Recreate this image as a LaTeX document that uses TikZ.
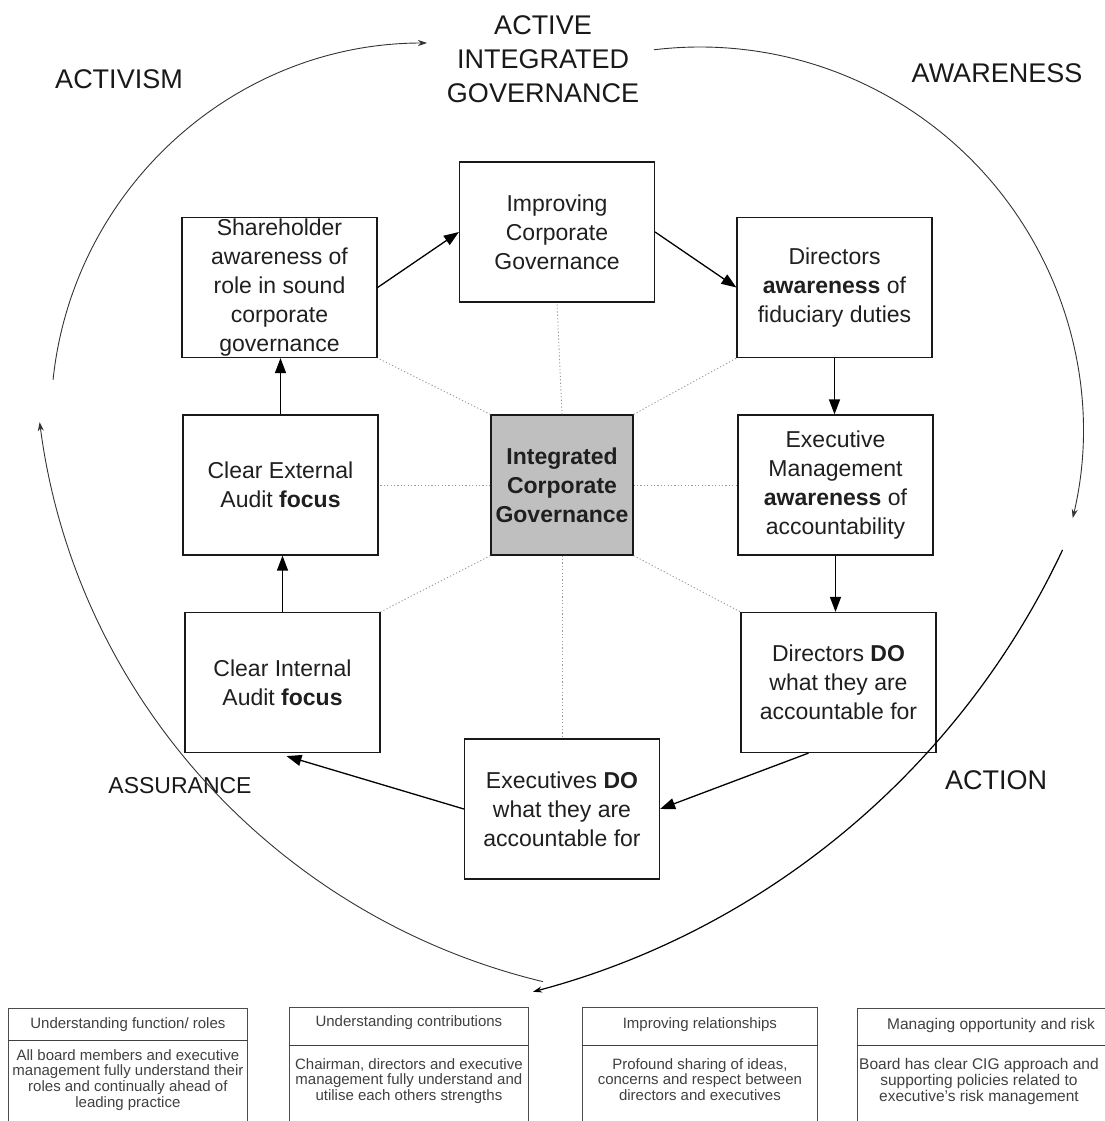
\documentclass[tikz,border=0pt]{standalone}
\usepackage{fontspec}
\setmainfont{Liberation Sans}
\usetikzlibrary{arrows.meta}
\begin{document}
\begin{tikzpicture}[x=1pt,y=-1pt,
  stage/.style={draw=black!90, line width=1.2pt, minimum width=195pt, minimum height=140pt,
    inner sep=0pt, align=center, text=black!88, font=\fontsize{23}{29}\selectfont},
  hub/.style={stage, fill=black!25, minimum width=142pt, font=\fontsize{23}{29}\selectfont\bfseries},
  flow/.style={draw=black, line width=1.3pt, -{Triangle[length=15pt,width=11pt]}},
  spoke/.style={draw=black!40, line width=0.9pt, dash pattern=on 1.2pt off 2.2pt},
  loop/.style={draw=black!80, line width=0.9pt, -{Stealth[length=9pt,width=6pt]}},
  phase/.style={align=center, inner sep=0pt, text=black!90, font=\fontsize{27}{34}\selectfont},
  panel/.style={draw=black!70, line width=0.8pt, minimum width=239pt, minimum height=140pt,
    anchor=north west, inner sep=0pt},
  panelrule/.style={draw=black!75, line width=1pt},
  paneltext/.style={align=center, inner sep=0pt, text=black!75, font=\fontsize{15}{15.9}\selectfont}
]
\useasboundingbox (0,0) rectangle (1104,1121);

% phase labels round the cycle
\node[phase] (aig) at (543,59) {ACTIVE\\INTEGRATED\\GOVERNANCE};
\node[phase] (activism) at (119,79) {ACTIVISM};
\node[phase] (awareness) at (997,73) {AWARENESS};
\node[phase, font=\fontsize{23}{29}\selectfont] (assurance) at (180,786) {ASSURANCE};
\node[phase] (action) at (996,780) {ACTION};

% the eight stages and the hub
\node[stage] (imp) at (557,232) {Improving\\Corporate\\Governance};
\node[stage] (sh) at (279.5,287.5) {Shareholder\\awareness of\\role in sound\\corporate\\governance};
\node[stage] (dir) at (834.5,287.5) {Directors\\\textbf{awareness} of\\fiduciary duties};
\node[stage] (ext) at (280.5,485) {Clear External\\Audit \textbf{focus}};
\node[hub] (icg) at (562,485) {Integrated\\Corporate\\Governance};
\node[stage] (exe) at (835.5,485) {Executive\\Management\\\textbf{awareness} of\\accountability};
\node[stage] (int) at (282.5,682.5) {Clear Internal\\Audit \textbf{focus}};
\node[stage] (ddo) at (838.5,682.5) {Directors \textbf{DO}\\what they are\\accountable for};
\node[stage] (edo) at (562,809) {Executives \textbf{DO}\\what they are\\accountable for};

% dotted spokes from the hub
\draw[spoke] (icg.north) -- (imp.south);
\draw[spoke] (icg.south) -- (edo.north);
\draw[spoke] (icg.west) -- (ext.east);
\draw[spoke] (icg.east) -- (exe.west);
\draw[spoke] (icg.north west) -- (sh.south east);
\draw[spoke] (icg.north east) -- (dir.south west);
\draw[spoke] (icg.south west) -- (int.north east);
\draw[spoke] (icg.south east) -- (ddo.north west);

% stage-to-stage flow
\draw[flow] (sh.east) -- (imp.west);
\draw[flow] (imp.east) -- (dir.west);
\draw[flow] (dir.south) -- (dir.south |- exe.north);
\draw[flow] (exe.south) -- (exe.south |- ddo.north);
\draw[flow] ([xshift=-30pt]ddo.south) -- (edo.east);
\draw[flow] (edo.west) -- ([xshift=4pt,yshift=-3pt]int.south);
\draw[flow] (int.north) -- (int.north |- ext.south);
\draw[flow] (ext.north) -- (ext.north |- sh.south);

% outer heart-shaped cycle
\coordinate (ctl) at (427,419);
\coordinate (ctr) at (700,430);
\coordinate (cbr) at (324,203);
\coordinate (cbl) at (698,336);
\draw[loop] ([shift={(-174:376)}]ctl) arc[start angle=-174, end angle=-90, radius=376];
\draw[loop] ([shift={(-96.9:383)}]ctr) arc[start angle=-96.9, end angle=13.3, radius=383];
\draw[loop, draw=black, line width=1.2pt] ([shift={(25.16:816)}]cbr) arc[start angle=25.16, end angle=75.16, radius=816];
\draw[loop] ([shift={(103.5:664)}]cbl) arc[start angle=103.5, end angle=172.55, radius=664];

% principle panels along the bottom
\node[panel] (p1) at (8,1008) {};
\draw[panelrule] ([yshift=-32pt]p1.north west) -- ([yshift=-32pt]p1.north east);
\node[paneltext] (p1t) at ([yshift=-17pt]p1.north) {Understanding function/ roles};
\node[paneltext, anchor=north] (p1b) at ([yshift=-41pt]p1.north) {All board members and executive\\management fully understand their\\roles and continually ahead of\\leading practice};

\node[panel] (p2) at (289,1007) {};
\draw[panelrule] ([yshift=-38pt]p2.north west) -- ([yshift=-38pt]p2.north east);
\node[paneltext] (p2t) at ([yshift=-16pt]p2.north) {Understanding contributions};
\node[paneltext, anchor=north] (p2b) at ([yshift=-51pt]p2.north) {Chairman, directors and executive\\management fully understand and\\utilise each others strengths};

\node[panel, minimum width=235pt] (p3) at (582,1007) {};
\draw[panelrule] ([yshift=-38pt]p3.north west) -- ([yshift=-38pt]p3.north east);
\node[paneltext] (p3t) at ([yshift=-18pt]p3.north) {Improving relationships};
\node[paneltext, anchor=north] (p3b) at ([yshift=-51pt]p3.north) {Profound sharing of ideas,\\concerns and respect between\\directors and executives};

\node[panel, minimum width=255pt] (p4) at (857,1008) {};
\draw[panelrule] ([yshift=-37pt]p4.north west) -- ([yshift=-37pt]p4.north east);
\node[paneltext, anchor=west, font=\fontsize{15.5}{16}\selectfont] (p4t) at ([xshift=30pt,yshift=-17pt]p4.north west) {Managing opportunity and risk};
\node[paneltext, anchor=north west, font=\fontsize{15.5}{16}\selectfont] (p4b) at ([xshift=2pt,yshift=-50pt]p4.north west) {Board has clear CIG approach and\\supporting policies related to\\executive's risk management};
\end{tikzpicture}
\end{document}
